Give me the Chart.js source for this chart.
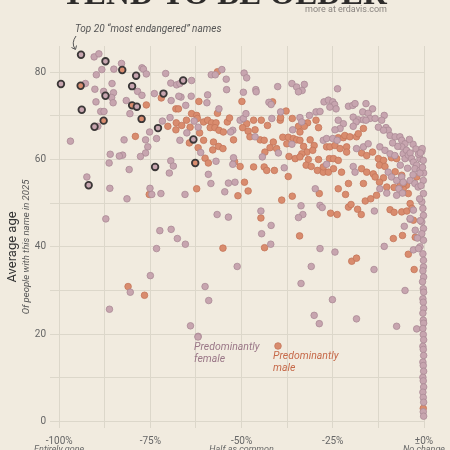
<!DOCTYPE html>
<html>
<head>
<meta charset="utf-8">
<script src="https://cdn.jsdelivr.net/npm/chart.js@4.4.1/dist/chart.umd.min.js"></script>
<style>
html,body{margin:0;padding:0;background:#f1ebdf;overflow:hidden;}
#wrap{width:450px;height:450px;}
</style>
</head>
<body>
<div id="wrap"><canvas id="c" width="450" height="450"></canvas></div>
<script>
// [change in popularity %, average age]
const femalePoints = [
  [-90.4,83.5],[-89.1,84.2],[-88.3,80.6],[-89.8,79.4],[-85.0,80.7],[-82.9,82.0],[-77.3,81.0],[-76.9,80.7],[-76.1,79.6],[-92.8,77.4],
  [-90.2,76.1],[-85.5,77.4],[-87.8,75.6],[-85.1,75.3],[-85.6,74.2],[-85.2,73.0],[-89.9,73.2],[-81.6,73.5],[-78.5,75.6],[-77.3,74.7],
  [-80.6,70.5],[-88.6,71.0],[-87.7,71.0],[-73.9,75.1],[-70.8,79.7],[-69.4,77.5],[-67.8,77.1],[-66.9,77.4],[-66.6,74.3],[-63.7,78.1],
  [-69.3,73.5],[-67.2,74.5],[-63.8,74.5],[-65.3,72.4],[-69.6,69.6],[-71.7,68.8],[-63.0,68.8],[-61.9,67.4],[-65.0,66.1],[-66.9,64.4],
  [-75.2,66.3],[-76.3,64.5],[-73.3,64.8],[-82.2,64.5],[-75.7,62.9],[-76.3,61.5],[-77.7,60.7],[-82.6,61.0],[-83.5,60.8],[-86.0,61.2],
  [-86.3,59.2],[-80.8,57.7],[-69.4,59.7],[-68.7,58.5],[-69.8,56.9],[-96.9,64.2],[-92.4,56.0],[-86.1,53.4],[-75.1,53.4],[-89.4,67.6],
  [-58.3,79.4],[-57.2,79.4],[-55.4,80.6],[-54.2,78.4],[-54.1,76.0],[-49.3,79.8],[-48.6,78.7],[-49.5,75.4],[-46.1,76.0],[-46.0,75.5],
  [-40.1,76.7],[-36.2,77.4],[-34.9,76.6],[-32.8,77.2],[-33.4,75.8],[-34.4,75.5],[-42.5,73.1],[-41.9,72.6],[-59.5,73.0],[-59.3,74.8],
  [-56.2,71.6],[-61.2,61.6],[-57.0,59.6],[-52.4,66.7],[-53.0,66.3],[-50.4,69.0],[-49.5,69.4],[-48.8,70.5],[-46.3,65.2],[-41.7,69.4],
  [-39.3,70.9],[-34.0,69.6],[-33.5,68.6],[-31.4,70.1],[-36.0,66.8],[-29.6,70.9],[-28.5,71.0],[-27.4,73.2],[-26.2,73.6],[-27.6,64.4],
  [-26.7,64.8],[-36.2,63.5],[-26.7,58.9],[-44.3,60.6],[-39.9,61.5],[-38.3,58.1],[-52.2,60.4],[-52.4,58.9],[-59.1,56.6],[-53.6,54.6],
  [-51.8,54.8],[-58.4,54.5],[-29.8,53.3],
  [-23.7,76.2],[-25.0,73.2],[-24.5,72.6],[-24.1,71.6],[-25.8,72.0],[-20.7,72.2],[-19.5,72.4],[-18.9,72.8],[-15.9,72.8],[-14.1,71.6],
  [-10.9,70.1],[-11.6,69.0],[-16.8,70.9],[-15.3,70.6],[-14.8,69.4],[-19.4,69.7],[-18.0,69.1],[-16.6,69.1],[-15.9,69.0],[-18.6,68.6],
  [-23.5,69.0],[-22.1,68.2],[-23.0,67.1],[-24.4,66.8],[-19.4,67.6],[-13.4,69.4],[-12.5,67.4],[-10.4,67.3],[-9.8,66.7],[-11.1,66.7],
  [-9.3,65.5],[-7.9,65.2],[-6.6,65.2],[-6.1,64.4],[-5.2,63.6],[-25.0,64.8],[-23.8,64.4],[-18.5,62.5],[-16.6,62.9],[-15.3,63.6],
  [-12.1,62.9],[-10.7,62.1],[-9.3,61.3],[-8.0,60.9],[-6.1,62.9],[-5.7,61.3],[-5.2,60.2],[-4.8,62.1],[-4.3,61.0],[-3.8,61.5],
  [-3.4,60.2],[-2.9,59.4],[-2.0,58.7],[-2.5,57.9],[-1.1,57.5],[-1.1,60.2],[-0.2,59.8],[-0.1,56.9],[-19.4,58.4],[-18.9,57.1],
  [-9.8,57.1],[-8.9,56.0],[-7.5,55.2],[-6.1,56.0],[-5.7,54.8],[-3.8,55.2],[-2.5,54.5],[-1.6,53.7],[-12.1,53.3],[-1.1,56.9],
  [-0.2,55.2],[-3.0,63.5],[-2.2,62.4],[-1.5,61.2],[-4.0,64.6],[-7.2,63.0],[-8.6,63.8],[-3.0,56.5],[-4.5,58.0],[-6.5,58.7],[-0.6,61.9],
  [-81.4,51.0],[-74.6,52.0],[-72.1,52.2],[-65.5,52.0],[-54.6,52.6],[-87.2,46.4],[-56.7,47.4],[-53.6,46.8],[-72.4,43.7],[-69.3,44.0],
  [-67.6,41.9],[-65.4,40.6],[-73.3,39.6],[-51.2,35.5],[-75.0,33.4],[-80.5,29.6],[-60.0,30.9],[-59.0,27.7],[-86.2,25.7],[-64.0,21.9],
  [-61.9,19.5],
  [-44.7,48.2],[-41.9,44.9],[-44.5,43.0],[-42.0,40.6],[-33.7,49.4],[-33.2,47.4],[-34.4,46.7],[-28.5,49.5],[-27.9,49.0],[-13.6,48.2],
  [-10.2,52.3],[-7.5,51.8],[-6.9,53.3],[-5.9,52.3],[-5.4,44.7],[-3.8,46.3],[-28.5,39.6],[-24.4,38.8],[-30.9,35.5],[-33.7,31.6],
  [-13.7,34.8],[-10.9,40.1],[-2.9,39.3],[-5.2,30.0],[-25.1,27.9],[-30.1,24.3],[-28.7,22.4],[-18.5,23.5],[-7.5,21.8],[-2.0,21.2],
  [-0.15,52.2],[-0.6,50.3],[-0.3,48.8],[-0.15,47.2],[-0.6,45.7],[-0.15,44.2],[-0.6,43.0],[-0.15,41.5],[-1.1,40.0],[-0.3,38.4],
  [-0.15,36.9],[-0.15,35.4],[-2.9,48.4],[-3.8,46.5],[-2.4,43.8],[-1.5,39.6],[-1.2,51.0],[-1.0,46.0],[-1.8,42.0],[-0.5,62.5],
  [-1.0,61.5],[-0.4,58.2],[-0.8,54.0],
  [-0.3,34.5],[-0.1,33.1],[-0.4,32.0],[-0.2,30.4],[-0.1,29.6],[-0.3,28.1],[-0.2,27.3],[-0.1,25.9],[-0.3,24.8],[-0.2,23.2],
  [-0.1,22.5],[-0.3,21.3],[-0.2,19.9],[-0.1,18.7],[-0.3,17.2],[-0.2,16.5],[-0.1,15.1],[-0.3,13.6],[-0.2,12.8],[-0.1,11.5],
  [-0.3,10.1],[-0.2,9.3],[-0.1,7.9],[-0.3,6.7],[-0.2,5.5],[-0.1,4.4],[-0.2,2.2],[-0.1,1.2]
];

const malePoints = [
  [-76.1,72.5],[-72.0,74.1],[-68.0,71.6],[-67.3,71.6],[-70.2,67.6],[-67.9,68.4],[-68.0,66.8],[-66.4,67.8],[-64.1,67.4],[-65.1,69.0],
  [-63.7,70.5],[-62.3,70.1],[-61.7,73.3],[-64.3,63.8],[-61.9,62.7],[-79.1,65.3],[-62.3,53.3],
  [-56.6,80.1],[-41.5,73.2],[-49.9,73.3],[-56.6,70.6],[-62.1,69.4],[-60.4,68.6],[-59.3,69.0],[-58.2,68.4],[-57.0,68.4],[-58.6,67.3],
  [-57.3,67.3],[-56.2,66.7],[-55.0,66.3],[-53.9,68.6],[-53.3,69.5],[-61.5,66.1],[-60.4,64.4],[-57.7,64.0],[-56.3,63.0],[-57.9,62.2],
  [-55.1,62.5],[-60.0,60.3],[-59.1,59.2],[-52.2,64.5],[-48.6,68.2],[-46.7,69.0],[-44.6,69.0],[-42.9,67.8],[-49.7,67.3],[-48.2,66.5],
  [-46.3,66.8],[-47.7,65.2],[-44.9,64.5],[-43.8,64.4],[-39.4,69.0],[-39.3,69.6],[-37.8,71.1],[-36.1,69.4],[-31.9,68.4],[-34.4,67.6],
  [-32.8,67.6],[-34.0,66.3],[-28.9,67.3],[-29.6,69.0],[-41.3,64.0],[-42.2,62.7],[-40.4,62.5],[-38.7,65.1],[-37.2,65.1],[-35.8,64.8],
  [-34.9,64.5],[-37.6,63.6],[-34.0,64.4],[-33.0,63.0],[-32.1,61.7],[-33.5,61.3],[-37.0,60.7],[-35.3,60.2],[-34.0,60.6],[-31.2,64.5],
  [-30.1,63.2],[-30.5,62.1],[-31.7,60.0],[-32.3,58.7],[-30.9,58.4],[-28.9,60.0],[-29.2,57.5],[-26.7,62.9],[-27.6,57.1],[-43.6,61.7],
  [-37.2,56.1],[-51.9,59.5],[-50.4,58.4],[-46.7,58.3],[-43.8,58.3],[-43.1,57.5],[-41.0,57.5],[-49.2,54.8],
  [-16.6,67.1],[-23.5,65.0],[-22.1,65.0],[-21.7,65.5],[-20.3,65.2],[-18.5,65.2],[-18.0,65.9],[-25.8,62.9],[-24.4,63.2],[-23.0,62.5],
  [-21.2,62.9],[-21.2,61.7],[-25.9,60.2],[-24.8,60.2],[-23.5,59.8],[-17.1,61.5],[-15.7,60.9],[-14.1,61.7],[-12.5,60.2],[-11.1,59.8],
  [-12.2,58.7],[-10.7,58.4],[-8.9,60.4],[-7.5,60.2],[-27.6,58.3],[-26.2,57.1],[-24.8,57.9],[-22.6,57.1],[-17.1,57.9],[-15.7,57.1],
  [-13.9,56.7],[-13.4,56.0],[-11.1,55.8],[-12.2,54.8],[-16.6,54.5],[-20.7,54.5],[-23.5,53.3],[-4.8,54.1],[-6.6,53.7],[-5.7,53.3],
  [-10.2,53.7],
  [-75.3,52.0],[-51.0,51.7],[-48.2,52.8],[-55.1,39.7],[-81.1,30.9],[-76.6,28.9],
  [-39.0,50.7],[-36.1,51.6],[-28.7,52.2],[-21.5,52.0],[-44.7,46.6],[-43.7,39.8],[-34.1,42.5],[-25.6,47.7],[-23.8,47.4],[-20.7,49.1],
  [-20.0,49.7],[-18.2,48.6],[-17.2,47.4],[-16.1,50.5],[-14.6,51.0],[-13.0,51.8],[-8.2,53.6],[-9.3,48.5],[-8.2,47.9],[-6.1,48.0],
  [-4.7,48.2],[-19.8,36.7],[-18.5,37.4],[-8.4,41.9],[-5.9,42.6],[-4.3,38.3],[-2.7,34.8],
  [-4.3,52.2],[-3.8,49.9],[-3.3,48.8],[-2.9,46.1],[-2.4,42.2],[-7.9,57.2],[-6.1,56.4],[-6.5,54.1],[-5.6,54.5],[-2.0,56.0],
  [-0.2,3.0]
];

// top 20 "most endangered" names (ringed)
const topFemale = [
  [-94.0,84.0],[-87.3,82.5],[-99.5,77.3],[-78.9,79.2],[-80.0,76.8],[-87.3,74.6],[-66.0,78.1],[-71.4,75.1],
  [-93.8,71.4],[-78.7,72.1],[-90.3,67.5],[-72.9,67.2],[-63.2,64.6],[-73.7,58.3],[-91.9,54.1]
];
const topMale = [[-94.1,76.9],[-82.7,80.5],[-80.0,72.4],[-87.8,68.9],[-77.4,69.3],[-62.7,59.2]];

const xTickValues = [-100,-87.5,-75,-62.5,-50,-37.5,-25,-12.5,0];
const xTickLabels = ['-100%','','-75%','','-50%','','-25%','','±0%'];
const xSubLabels  = ['Entirely gone','','','','Half as common','','','','No change'];
const yTickValues = [0,10,20,30,40,50,60,70,80];

const FONT = 'Roboto';
const pink = '#c7a5af', pinkEdge = '#ab8a96';
const orange = '#d98c6e', orangeEdge = '#c4765a';
const ring = '#3b3737';

const toXY = arr => arr.map(p => ({x: p[0], y: p[1]}));

const decor = {
  id: 'decor',
  beforeDraw(chart) {
    const ctx = chart.ctx;
    ctx.save();
    ctx.fillStyle = '#f1ebdf';
    ctx.fillRect(0, 0, chart.width, chart.height);
    ctx.restore();
  },
  afterDraw(chart) {
    const ctx = chart.ctx;
    const xs = chart.scales.x;
    ctx.save();

    // title, mostly cut off by the top edge
    let size = 40;
    ctx.font = 'bold ' + size + 'px "Liberation Serif"';
    const w = ctx.measureText('TEND TO BE OLDER').width;
    size = size * 325 / w;
    ctx.font = 'bold ' + size + 'px "Liberation Serif"';
    ctx.fillStyle = '#2e2c2b';
    ctx.textAlign = 'center';
    ctx.textBaseline = 'alphabetic';
    ctx.fillText('TEND TO BE OLDER', 224.5, 3.5);

    ctx.font = '9px ' + FONT;
    ctx.fillStyle = '#8a8580';
    ctx.textAlign = 'right';
    ctx.fillText('more at erdavis.com', 387, 11.5);

    // annotation
    ctx.font = 'italic 10px ' + FONT;
    ctx.fillStyle = '#555';
    ctx.textAlign = 'left';
    ctx.fillText('Top 20 \u201cmost endangered\u201d names', 75, 31.5);
    ctx.strokeStyle = '#555';
    ctx.lineWidth = 1;
    ctx.beginPath();
    ctx.moveTo(76, 36);
    ctx.quadraticCurveTo(71, 43, 75, 49);
    ctx.stroke();
    ctx.beginPath();
    ctx.moveTo(71.5, 47.5);
    ctx.lineTo(75.5, 49.5);
    ctx.lineTo(76.5, 45.5);
    ctx.stroke();

    // y axis title
    ctx.save();
    ctx.translate(13, 247);
    ctx.rotate(-Math.PI / 2);
    ctx.textAlign = 'center';
    ctx.textBaseline = 'middle';
    ctx.font = '13px ' + FONT;
    ctx.fillStyle = '#333';
    ctx.fillText('Average age', 0, 0);
    ctx.translate(0, 14);
    ctx.font = 'italic 9.5px ' + FONT;
    ctx.fillStyle = '#555';
    ctx.fillText('Of people with this name in 2025', 0, 0);
    ctx.restore();

    // x tick sublines
    ctx.font = 'italic 9px ' + FONT;
    ctx.fillStyle = '#666';
    ctx.textAlign = 'center';
    xTickValues.forEach((v, i) => {
      if (xSubLabels[i]) ctx.fillText(xSubLabels[i], xs.getPixelForValue(v), 451.5);
    });

    // gender key
    ctx.lineWidth = 0.8;
    ctx.fillStyle = pink; ctx.strokeStyle = pinkEdge;
    ctx.beginPath(); ctx.arc(198, 337, 3.3, 0, Math.PI * 2); ctx.fill(); ctx.stroke();
    ctx.fillStyle = orange; ctx.strokeStyle = orangeEdge;
    ctx.beginPath(); ctx.arc(278, 346, 3.3, 0, Math.PI * 2); ctx.fill(); ctx.stroke();

    ctx.font = 'italic 10.5px ' + FONT;
    ctx.textAlign = 'left';
    ctx.fillStyle = '#9a7787';
    ctx.fillText('Predominantly', 194, 350);
    ctx.fillText('female', 194, 361.5);
    ctx.fillStyle = '#c66a4a';
    ctx.fillText('Predominantly', 273, 359);
    ctx.fillText('male', 273, 370.5);

    ctx.restore();
  }
};

new Chart(document.getElementById('c'), {
  type: 'scatter',
  data: {
    datasets: [
      { label: 'Top female', data: toXY(topFemale), backgroundColor: pink, borderColor: ring,
        borderWidth: 1.8, pointRadius: 3.3, order: 1, clip: false },
      { label: 'Top male', data: toXY(topMale), backgroundColor: orange, borderColor: ring,
        borderWidth: 1.8, pointRadius: 3.3, order: 1, clip: false },
      { label: 'Female', data: toXY(femalePoints), backgroundColor: pink, borderColor: pinkEdge,
        borderWidth: 0.8, pointRadius: 3.3, order: 2, clip: false },
      { label: 'Male', data: toXY(malePoints), backgroundColor: orange, borderColor: orangeEdge,
        borderWidth: 0.8, pointRadius: 3.3, order: 3, clip: false }
    ]
  },
  options: {
    responsive: false,
    animation: false,
    events: [],
    layout: { padding: { left: 0, right: 26, top: 46, bottom: 0 } },
    plugins: { legend: { display: false }, tooltip: { enabled: false } },
    scales: {
      x: {
        type: 'linear', min: -102.5, max: 0,
        afterBuildTicks: s => { s.ticks = xTickValues.map(v => ({ value: v })); },
        afterFit: s => { s.height = 22; },
        grid: { color: '#dcd7ca', lineWidth: 1, drawTicks: false },
        border: { display: false },
        ticks: {
          autoSkip: false, maxRotation: 0, padding: 7, color: '#666',
          font: { family: FONT, size: 10 },
          callback: (v, i) => xTickLabels[i]
        }
      },
      y: {
        min: -1.5, max: 86,
        afterBuildTicks: s => { s.ticks = yTickValues.map(v => ({ value: v })); },
        afterFit: s => { s.width = 50; },
        grid: { color: '#dcd7ca', lineWidth: 1, drawTicks: false },
        border: { display: false },
        ticks: {
          padding: 4, color: '#666',
          font: { family: FONT, size: 10 },
          callback: v => (v % 20 === 0 ? String(v) : '')
        }
      }
    }
  },
  plugins: [decor]
});
</script>
</body>
</html>
